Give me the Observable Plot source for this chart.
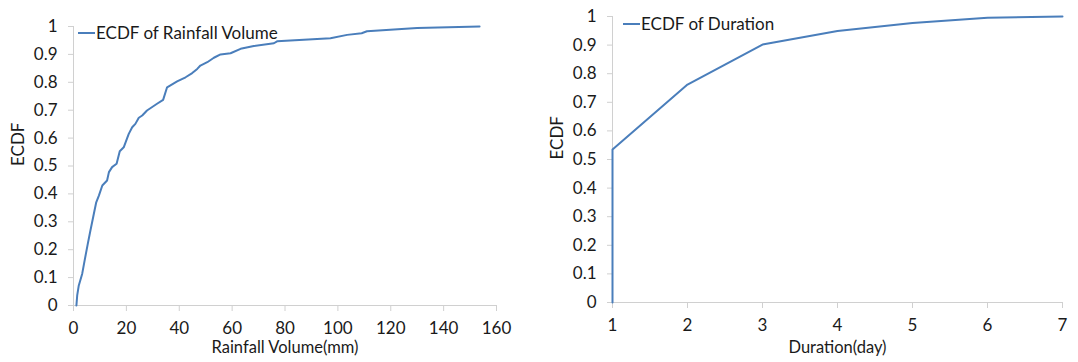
<!DOCTYPE html>
<html>
<head>
<meta charset="utf-8">
<script src="https://cdn.jsdelivr.net/npm/d3@7"></script>
<script src="https://cdn.jsdelivr.net/npm/@observablehq/plot@0.6"></script>
<style>
  html, body { margin: 0; padding: 0; background: #fff; }
  #wrap { display: flex; width: 1078px; height: 362px; overflow: hidden; font-family: Lato, "Open Sans", sans-serif; }
  .panel { position: relative; width: 539px; height: 362px; }
  .panel svg { display: block; overflow: visible; }
  .panel g[aria-label="x-axis tick"] path, .panel g[aria-label="y-axis tick"] path { stroke: #d0d0d0; }
  .legend { position: absolute; display: flex; align-items: center; font-size: 17px; color: #1a1a1a; white-space: nowrap; }
  .legend .sw { display: inline-block; width: 17px; height: 0; border-top: 2px solid #4a7ebb; margin-right: 1px; }
</style>
</head>
<body>
<div id="wrap"></div>
<script>
// ----- Data -----
const rainVolume = [1.1, 1.4, 2, 3.3, 4.2, 5.4, 6.4, 7.7, 8.6, 9.6, 10.9, 12.7, 13.4, 14.6, 16.3, 17.5, 19, 19.7, 20.9, 22.2, 23.4, 24.7, 26, 27.8, 31.6, 33.9, 35.4, 39.2, 42.4, 44.9, 46.8, 48, 50.6, 53.1, 55.6, 59.4, 63.2, 68.2, 75.8, 77, 97.2, 103.5, 109, 111, 130, 153.6];
const rainEcdf   = [0, 0.036, 0.072, 0.114, 0.161, 0.221, 0.269, 0.329, 0.37, 0.394, 0.43, 0.448, 0.478, 0.496, 0.508, 0.553, 0.567, 0.585, 0.615, 0.639, 0.651, 0.673, 0.681, 0.699, 0.723, 0.737, 0.782, 0.803, 0.818, 0.833, 0.848, 0.86, 0.872, 0.888, 0.90, 0.904, 0.92, 0.93, 0.94, 0.947, 0.958, 0.97, 0.976, 0.983, 0.995, 1.0];

const durationDays = [1, 1, 2, 3, 4, 5, 6, 7];
const durationEcdf = [0, 0.535, 0.762, 0.902, 0.949, 0.977, 0.996, 1.0];

const ecdfTicks = [0, 0.1, 0.2, 0.3, 0.4, 0.5, 0.6, 0.7, 0.8, 0.9, 1];
const volumeTicks = [0, 20, 40, 60, 80, 100, 120, 140, 160];
const dayTicks = [1, 2, 3, 4, 5, 6, 7];

const lineColor = "#4a7ebb";
const axisColor = "#d0d0d0";
const textColor = "#1a1a1a";

function panel({xs, ys, xDomain, xTicks, xLabel, legend, margins, legendPos}) {
  const data = xs.map((x, i) => ({x, y: ys[i]}));
  const chart = Plot.plot({
    width: 539,
    height: 362,
    marginLeft: margins.left,
    marginRight: margins.right,
    marginTop: margins.top,
    marginBottom: margins.bottom,
    style: {fontFamily: "Lato, 'Open Sans', sans-serif", fontSize: "17px", color: textColor, background: "#fff"},
    x: {domain: xDomain},
    y: {domain: [0, 1]},
    marks: [
      Plot.ruleY([0], {stroke: axisColor, strokeWidth: 1}),
      Plot.ruleX([xDomain[0]], {stroke: axisColor, strokeWidth: 1}),
      Plot.axisY({ticks: ecdfTicks, tickSize: 5, tickPadding: 11, tickFormat: d => String(+d.toFixed(1)), label: null}),
      Plot.axisX({ticks: xTicks, tickSize: 6, tickPadding: 10, tickFormat: d => String(d), label: null}),
      Plot.line(data, {x: "x", y: "y", stroke: lineColor, strokeWidth: 2, curve: "linear"}),
      Plot.text([xLabel], {frameAnchor: "bottom", dy: margins.bottom - 10, fontSize: 16.5, fill: textColor}),
      Plot.text(["ECDF"], {frameAnchor: "left", dx: -margins.left + 18, rotate: -90, fontSize: 17, fill: textColor})
    ]
  });
  const div = document.createElement("div");
  div.className = "panel";
  div.appendChild(chart);
  const lg = document.createElement("div");
  lg.className = "legend";
  lg.style.left = legendPos.left + "px";
  lg.style.top = legendPos.top + "px";
  lg.innerHTML = '<span class="sw"></span><span></span>';
  lg.lastChild.textContent = legend;
  div.appendChild(lg);
  return div;
}

const wrap = document.getElementById("wrap");
wrap.appendChild(panel({
  xs: rainVolume, ys: rainEcdf, xDomain: [0, 160], xTicks: volumeTicks,
  xLabel: "Rainfall Volume(mm)", legend: "ECDF of Rainfall Volume",
  margins: {left: 73, right: 43, top: 26, bottom: 57},
  legendPos: {left: 78, top: 22}
}));
wrap.appendChild(panel({
  xs: durationDays, ys: durationEcdf, xDomain: [1, 7], xTicks: dayTicks,
  xLabel: "Duration(day)", legend: "ECDF of Duration",
  margins: {left: 73, right: 16, top: 16, bottom: 60},
  legendPos: {left: 84, top: 13}
}));
</script>
</body>
</html>
